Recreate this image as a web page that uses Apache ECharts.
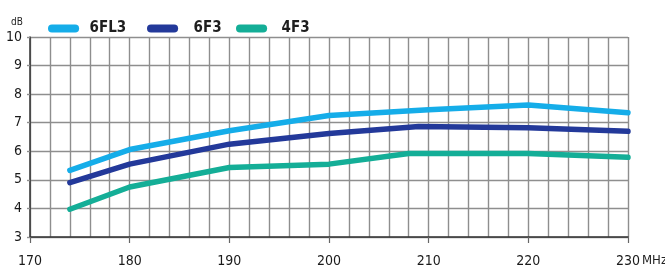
<!DOCTYPE html>
<html><head><meta charset="utf-8">
<script src="https://cdn.jsdelivr.net/npm/echarts@6/dist/echarts.min.js"></script>
<style>html,body{margin:0;padding:0;background:#fff}#c{width:665px;height:267px}</style>
</head><body><div id="c"></div>
<script>
const seriesNames = ['6FL3', '6F3', '4F3'];
const freq6FL3 = [174, 180, 190, 200, 210, 220, 230];
const gain6FL3 = [5.33, 6.06, 6.72, 7.25, 7.45, 7.62, 7.35];
const freq6F3 = [174, 180, 190, 200, 209, 220, 230];
const gain6F3 = [4.9, 5.55, 6.25, 6.62, 6.87, 6.82, 6.7];
const freq4F3 = [174, 180, 190, 200, 208, 220, 230];
const gain4F3 = [3.97, 4.75, 5.43, 5.55, 5.92, 5.92, 5.79];
const xTicks = [170, 180, 190, 200, 210, 220, 230];
const yTicks = [3, 4, 5, 6, 7, 8, 9, 10];
const colors = ['#15ade9', '#23399a', '#14ae97'];

const FONT = '"DejaVu Sans Condensed", "Liberation Sans Narrow", sans-serif';
const pair = (xs, ys) => xs.map((x, i) => [x, ys[i]]);
const dataSets = [pair(freq6FL3, gain6FL3), pair(freq6F3, gain6F3), pair(freq4F3, gain4F3)];
const capsule = 'path://M4.5,0 L30.5,0 A4.5,4.5 0 0 1 30.5,9 L4.5,9 A4.5,4.5 0 0 1 4.5,0 Z';
const gridColor = '#8e8e8e';
const legendLefts = [48, 147, 236];
const legendTextPad = [4, 9, 8];

const chart = echarts.init(document.getElementById('c'), null, {renderer: 'canvas'});
chart.setOption({
  animation: false,
  color: colors,
  legend: seriesNames.map((n, i) => ({
    left: legendLefts[i], top: 21, padding: 0,
    itemWidth: 34, itemHeight: 8,
    icon: capsule,
    textStyle: {fontFamily: FONT, fontWeight: 'bold', fontSize: 15, color: '#1e1e1e', padding: [0, 0, 0, legendTextPad[i]]},
    data: [n]
  })),
  grid: {left: 30, right: 37, top: 37, bottom: 30, outerBoundsMode: 'none', containLabel: false},
  xAxis: {
    type: 'value', min: xTicks[0], max: xTicks[xTicks.length - 1], interval: 10,
    name: 'MHz', nameLocation: 'end', nameGap: 14, nameMoveOverlap: false,
    nameTextStyle: {fontFamily: FONT, fontSize: 13, color: '#222', verticalAlign: 'top', padding: [17, 0, 0, 0]},
    axisLine: {show: true, lineStyle: {color: '#333', width: 1.5}},
    axisTick: {show: true, length: 6, lineStyle: {color: '#666', width: 1.2}},
    minorTick: {show: false, splitNumber: 5},
    minorSplitLine: {show: true, lineStyle: {color: gridColor, width: 1.4}},
    splitLine: {show: true, lineStyle: {color: gridColor, width: 1.4}},
    axisLabel: {fontFamily: FONT, fontSize: 14, color: '#1a1a1a', margin: 17,
      formatter: v => xTicks.includes(v) ? String(v) : ''}
  },
  yAxis: {
    type: 'value', min: yTicks[0], max: yTicks[yTicks.length - 1], interval: 1,
    name: 'dB', nameLocation: 'end', nameGap: 10,
    nameTextStyle: {fontFamily: FONT, fontSize: 10, color: '#222', align: 'right', padding: [0, 7, 0, 0]},
    axisLine: {show: true, lineStyle: {color: '#333', width: 1.5}},
    axisTick: {show: true, length: 3, lineStyle: {color: gridColor, width: 1.4}},
    splitLine: {show: true, lineStyle: {color: gridColor, width: 1.4}},
    axisLabel: {fontFamily: FONT, fontSize: 14, color: '#1a1a1a', margin: 8,
      formatter: v => yTicks.includes(v) ? String(v) : ''}
  },
  series: seriesNames.map((n, i) => ({
    name: n, type: 'line', data: dataSets[i],
    showSymbol: false, symbol: 'none',
    lineStyle: {width: 5.5, color: colors[i], cap: 'round', join: 'round'},
    itemStyle: {color: colors[i]}
  }))
});
</script></body></html>
